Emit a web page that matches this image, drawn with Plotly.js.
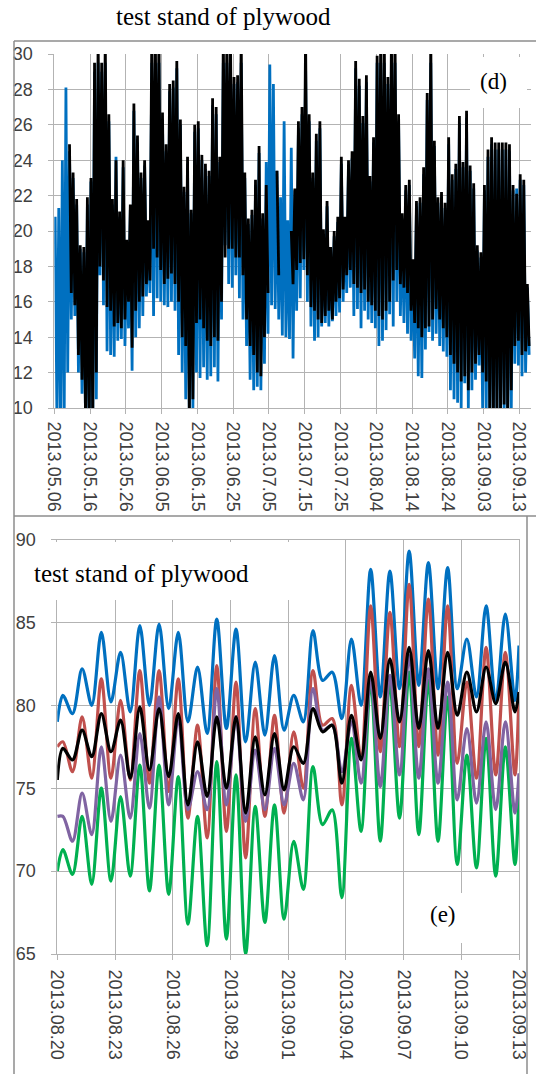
<!DOCTYPE html>
<html><head><meta charset="utf-8">
<script src="https://cdn.plot.ly/plotly-3.0.1.min.js"></script>
<style>html,body{margin:0;padding:0;background:#fff;}#chart{width:536px;height:1074px;}</style>
</head><body><div id="chart"></div>
<script>
// ---------- panel (d): daily maximum / minimum, first day 2013-05-06 ----------
const dStart = '2013-05-06';
const dBlackMax = [null,null,null,null,
 24.9,23.3,21.8,19.2,19.1,21.9,23.0,29.5,31,29.5,
 31,26.6,21.8,24.0,21.1,24.0,19.5,21.5,27.2,25.4,
 23.3,24.0,20.6,31,31,31,26.7,24.9,28.3,28.5,
 29.6,26.3,22.5,24.2,21.2,26.0,26.2,24.3,23.8,23.4,
 27.5,27.0,24.2,31,31,31,28.7,28.8,31,23.3,
 20.7,21.2,22.9,24.8,21.0,22.6,null,null,23.4,null,
 null,null,20.0,22.4,26.2,27.0,31,26.6,23.3,25.5,
 26.2,20.1,21.7,19.1,20.0,20.8,24.2,20.8,24.0,24.5,
 29.6,28.6,26.5,28.8,23.1,25.3,29.9,31,31,28.7,
 31,31,26.6,21.0,22.6,22.9,18.4,21.7,21.9,23.6,
 27.8,31,25.1,21.9,22.2,21.6,25.3,23.2,23.8,26.5,
 23.9,26.8,23.7,22.7,19.2,18.8,22.6,24.6,25.3,25.0,
 25.0,25.0,25.0,24.9,22.6,22.1,23.2,22.9,17.0];
const dBlackMin = [null,null,null,null,
 16.5,15.8,13.0,11.6,9.0,9.0,9.0,12.0,18.0,17.2,
 15.7,15.5,14.6,14.8,14.5,15.0,16.0,13.4,15.5,16.0,
 16.3,17.0,17.2,19.0,18.5,17.8,17.0,17.3,17.6,17.0,
 16.0,14.0,13.5,9.5,10.5,14.8,15.0,14.5,13.8,13.5,
 14.0,13.8,16.0,18.5,19.0,19.0,18.5,18.5,17.5,15.0,
 13.5,13.0,12.0,11.8,14.0,16.5,null,null,17.5,null,
 null,null,17.0,17.8,18.2,18.4,17.5,15.7,15.5,15.0,
 14.8,15.2,15.5,15.0,16.0,16.2,16.7,17.5,17.8,17.0,
 16.8,16.5,16.7,16.0,15.8,15.5,15.2,15.0,15.5,16.0,
 17.2,17.8,17.0,16.8,16.5,15.5,14.8,14.5,14.0,14.5,
 14.6,15.0,15.6,15.0,14.5,14.0,13.0,12.5,12.0,11.5,
 11.8,11.0,12.0,12.5,13.0,12.0,11.5,9.5,9.5,9.5,
 9.8,10.2,9.6,11.0,13.5,13.8,13.0,13.2,13.5];
const dBlueMax = [
 20.8,21.3,24.0,28.1,24.5,23.0,21.5,19.0,18.8,21.5,
 22.8,29.0,29.5,29.0,29.5,26.2,21.5,24.2,20.8,23.6,
 19.2,21.2,26.8,25.0,23.0,23.7,20.3,29.5,29.5,29.5,
 26.3,24.5,27.9,28.1,29.2,26.0,22.2,23.8,21.0,25.6,
 25.8,24.0,23.5,23.1,27.1,26.6,23.9,29.5,29.5,29.5,
 28.3,28.4,29.5,23.0,20.4,20.9,22.6,24.4,20.7,23.9,
 29.4,28.3,23.4,21.9,26.2,20.6,24.7,22.3,25.8,26.6,
 29.5,26.2,23.0,25.1,25.8,19.8,21.4,18.8,19.7,20.5,
 23.8,20.5,23.7,24.1,29.2,28.2,26.1,28.4,22.8,25.0,
 29.5,29.5,29.5,28.3,29.5,29.5,26.2,20.7,22.3,22.6,
 18.1,21.4,21.6,23.2,27.4,29.5,24.8,21.6,21.9,21.3,
 24.9,22.9,23.5,26.1,23.6,26.4,23.4,22.4,18.9,18.5,
 22.3,24.2,24.9,24.6,24.6,24.6,24.6,24.5,22.3,22.4,
 22.9,22.6,16.8];
const dBlueMin = [
 9.0,9.0,9.0,12.0,15.0,15.2,12.0,10.8,9.0,9.0,
 9.0,10.5,17.5,15.8,13.2,13.0,12.9,13.8,13.9,13.5,
 14.5,12.1,14.0,14.5,15.2,16.3,16.5,15.2,16.2,16.0,
 15.8,15.7,16.0,15.5,13.0,12.0,10.5,9.5,10.0,12.0,
 11.7,12.3,11.6,11.8,12.3,11.5,15.0,19.2,17.0,16.8,
 17.5,16.2,15.0,13.5,11.6,11.0,11.2,11.0,12.5,14.2,
 15.8,15.6,15.0,14.1,14.0,13.9,12.8,15.5,16.2,17.8,
 16.0,14.6,13.8,14.0,14.6,14.8,14.6,14.9,15.2,15.4,
 16.0,16.5,16.8,15.2,15.6,14.5,15.5,15.0,14.8,14.5,
 13.5,13.8,14.4,15.3,14.6,16.0,15.2,14.8,14.2,13.8,
 12.8,11.8,11.7,13.3,14.3,13.8,14.2,13.5,13.2,12.9,
 11.0,10.5,10.3,10.0,11.4,10.0,11.0,11.6,12.4,10.0,
 9.8,9.0,9.0,9.2,9.5,9.5,9.0,9.8,12.5,12.4,
 11.8,12.0,13.0];

// ---------- panel (e): start, (daily peak, daily trough) x 24 days, end ----------
const eStart = '2013-08-20';
const eBlue = [79.0, 80.6,79.5, 82.2,80.0, 84.4,80.2, 83.2,79.6, 84.8,80.0, 84.9,79.8, 84.4,79.0, 82.3,78.3, 85.2,78.6, 84.6,77.8, 82.6,78.2, 83.0,78.5, 80.6,79.0, 84.5,81.5, 82.0,79.2, 84.0,80.0, 88.2,80.5, 88.1,81.0, 89.3,81.2, 88.6,81.0, 88.3,81.0, 84.0,80.5, 86.0,80.2, 85.5,80.3, 83.6];
const eRed = [77.5, 77.8,76.0, 79.3,75.6, 81.6,75.6, 80.3,75.5, 82.1,75.3, 82.1,74.8, 81.6,73.2, 78.8,72.0, 82.4,72.4, 81.4,70.8, 79.8,73.3, 79.4,73.5, 78.4,75.0, 82.1,78.8, 79.2,74.0, 81.2,76.8, 86.0,77.2, 85.6,77.5, 87.3,77.5, 86.4,77.0, 86.0,76.5, 81.4,75.6, 83.5,75.8, 83.2,75.8, 80.8];
const ePurple = [73.3, 73.3,71.8, 74.7,72.2, 77.5,73.0, 77.0,73.2, 78.3,73.8, 80.5,74.0, 79.3,73.7, 76.0,73.7, 81.0,74.0, 79.3,73.0, 77.3,73.7, 77.4,74.0, 76.5,74.3, 81.0,78.5, 78.8,76.0, 79.0,75.3, 81.6,75.1, 81.8,75.8, 83.0,75.6, 82.2,75.3, 81.4,74.3, 78.6,74.1, 79.0,73.7, 79.0,73.5, 75.9];
const eGreen = [70.0, 71.3,69.8, 73.3,69.2, 75.0,69.4, 74.5,69.7, 76.4,68.8, 76.4,68.6, 75.7,66.8, 73.3,65.5, 76.6,65.9, 75.8,65.0, 73.9,66.9, 74.0,67.1, 71.8,68.9, 76.3,72.8, 73.7,68.4, 78.0,72.4, 81.5,71.8, 81.2,73.2, 82.0,72.2, 81.5,71.8, 80.5,70.4, 77.0,70.2, 78.0,69.7, 77.5,70.4, 75.1];
const eBlack = [75.5, 77.4,76.7, 78.5,76.9, 79.5,77.2, 79.1,75.6, 79.9,76.1, 79.8,75.7, 79.5,74.0, 77.8,74.5, 79.3,75.0, 79.3,73.5, 78.1,74.6, 78.3,74.9, 77.5,76.5, 79.8,78.4, 78.8,75.3, 79.4,76.7, 82.0,78.0, 82.8,79.0, 83.5,78.6, 83.3,78.6, 83.2,79.4, 82.0,79.6, 82.3,80.1, 82.6,79.6, 80.8];

const titleText = 'test stand of plywood';

// ---------- helpers ----------
const DAY = 86400000;
function at(start, days){
  return new Date(Date.parse(start + 'T00:00:00Z') + Math.round(days*DAY)).toISOString().slice(0,19).replace('T',' ');
}
function zigzag(maxArr, minArr){
  const x = [], y = [];
  for (let d = 0; d < maxArr.length; d++){
    x.push(at(dStart, d+0.25)); y.push(maxArr[d]);
    x.push(at(dStart, d+0.75)); y.push(minArr[d]);
  }
  return {x, y};
}
const eX = [at(eStart,0)];
for (let d = 0; d < (eBlue.length-2)/2; d++){ eX.push(at(eStart,d+0.29)); eX.push(at(eStart,d+0.79)); }
eX.push(at(eStart,(eBlue.length-2)/2));

const W = 536, H = 1074;
const px = v => v / W, py = v => 1 - v / H;

const blueZ = zigzag(dBlueMax, dBlueMin);
const blackZ = zigzag(dBlackMax, dBlackMin);

const traces = [
  {x: blueZ.x, y: blueZ.y, xaxis:'x', yaxis:'y', mode:'lines', line:{color:'#0070C0', width:2.8}, hoverinfo:'skip'},
  {x: blackZ.x, y: blackZ.y, xaxis:'x', yaxis:'y', mode:'lines', line:{color:'#000000', width:2.8}, hoverinfo:'skip'},
  {x: eX, y: eBlue, xaxis:'x2', yaxis:'y2', mode:'lines', line:{color:'#0070C0', width:3.2, shape:'spline', smoothing:0.9}},
  {x: eX, y: eRed, xaxis:'x2', yaxis:'y2', mode:'lines', line:{color:'#C0504D', width:3.2, shape:'spline', smoothing:0.9}},
  {x: eX, y: eGreen, xaxis:'x2', yaxis:'y2', mode:'lines', line:{color:'#00B050', width:3.2, shape:'spline', smoothing:0.9}},
  {x: eX, y: ePurple, xaxis:'x2', yaxis:'y2', mode:'lines', line:{color:'#8064A2', width:3.2, shape:'spline', smoothing:0.9}},
  {x: eX, y: eBlack, xaxis:'x2', yaxis:'y2', mode:'lines', line:{color:'#000000', width:3.2, shape:'spline', smoothing:0.9}}
];

const tickFont = {family:'Liberation Sans, Arial, sans-serif', size:18, color:'#404040'};
const grid = '#b3b3b3';
const frame = '#8c8c8c';
const dRightDays = (531 - 54.3) / 3.577;

const layout = {
  width: W, height: H,
  margin: {l:0, r:0, t:0, b:0},
  paper_bgcolor: '#ffffff', plot_bgcolor: '#ffffff',
  showlegend: false,
  xaxis: {
    domain: [px(54.3), px(531)], anchor: 'y', type: 'date',
    range: [at(dStart,0), at(dStart,dRightDays)],
    tick0: dStart, dtick: 10*DAY, tickformat: '%Y.%m.%d', tickangle: 90,
    showgrid: true, gridcolor: grid, gridwidth: 1,
    showline: true, linecolor: grid, linewidth: 1,
    ticks: 'outside', ticklen: 5, tickcolor: grid,
    ticklabelstandoff: 4, tickfont: tickFont, zeroline: false, fixedrange: true
  },
  yaxis: {
    domain: [py(408), py(54)], anchor: 'x', range: [10, 30], dtick: 2, tick0: 10,
    showgrid: true, gridcolor: grid, gridwidth: 1,
    showline: true, linecolor: grid, linewidth: 1,
    ticks: 'outside', ticklen: 5, tickcolor: grid,
    ticklabelstandoff: 12, tickfont: tickFont, zeroline: false, fixedrange: true
  },
  xaxis2: {
    domain: [px(57.3), px(519)], anchor: 'y2', type: 'date',
    range: [at(eStart,0), at(eStart,24)],
    tick0: eStart, dtick: 3*DAY, tickformat: '%Y.%m.%d', tickangle: 90,
    showgrid: true, gridcolor: grid, gridwidth: 1,
    showline: true, mirror: true, linecolor: grid, linewidth: 1,
    ticks: 'outside', ticklen: 5, tickcolor: grid,
    ticklabelstandoff: 6, tickfont: tickFont, zeroline: false, fixedrange: true
  },
  yaxis2: {
    domain: [py(954), py(539.5)], anchor: 'x2', range: [65, 90], dtick: 5, tick0: 65,
    showgrid: true, gridcolor: grid, gridwidth: 1,
    showline: true, mirror: true, linecolor: grid, linewidth: 1,
    ticks: 'outside', ticklen: 5, tickcolor: grid,
    ticklabelstandoff: 12, tickfont: tickFont, zeroline: false, fixedrange: true
  },
  shapes: [
    {type:'rect', xref:'paper', yref:'paper', x0:px(470), x1:px(527), y0:py(108), y1:py(57), fillcolor:'#ffffff', line:{width:0}, layer:'above'},
    {type:'rect', xref:'paper', yref:'paper', x0:px(52), x1:px(300), y0:py(600), y1:py(542), fillcolor:'#ffffff', line:{width:0}, layer:'above'},
    {type:'rect', xref:'paper', yref:'paper', x0:px(420), x1:px(470), y0:py(943), y1:py(893), fillcolor:'#ffffff', line:{width:0}, layer:'above'},
    {type:'line', xref:'paper', yref:'paper', x0:px(14), x1:px(536), y0:py(41), y1:py(41), line:{color:frame, width:1.5}},
    {type:'line', xref:'paper', yref:'paper', x0:px(14), x1:px(14), y0:py(41), y1:py(1074), line:{color:frame, width:1.5}},
    {type:'line', xref:'paper', yref:'paper', x0:px(14), x1:px(536), y0:py(516), y1:py(516), line:{color:frame, width:1.5}},
    {type:'line', xref:'paper', yref:'paper', x0:px(527), x1:px(527), y0:py(516), y1:py(1074), line:{color:frame, width:1.5}}
  ],
  annotations: [
    {xref:'paper', yref:'paper', x:px(223), y:py(17), text:titleText, showarrow:false, xanchor:'center', yanchor:'middle',
     font:{family:'Liberation Serif, Times New Roman, serif', size:25, color:'#000'}},
    {xref:'paper', yref:'paper', x:px(493), y:py(82), text:'(d)', showarrow:false, xanchor:'center', yanchor:'middle',
     font:{family:'Liberation Serif, Times New Roman, serif', size:23, color:'#000'}},
    {xref:'paper', yref:'paper', x:px(141), y:py(573), text:titleText, showarrow:false, xanchor:'center', yanchor:'middle',
     font:{family:'Liberation Serif, Times New Roman, serif', size:25, color:'#000'}},
    {xref:'paper', yref:'paper', x:px(443), y:py(914), text:'(e)', showarrow:false, xanchor:'center', yanchor:'middle',
     font:{family:'Liberation Serif, Times New Roman, serif', size:23, color:'#000'}}
  ]
};

Plotly.newPlot('chart', traces, layout, {staticPlot:true, displayModeBar:false});
</script>
</body></html>
